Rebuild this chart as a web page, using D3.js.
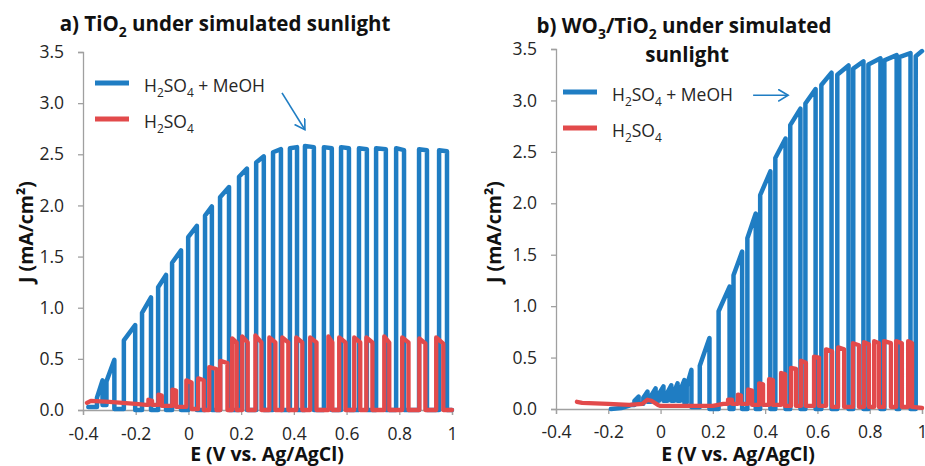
<!DOCTYPE html>
<meta charset="utf-8">
<style>
    body { margin: 0; background: #fff; }
    svg { font-family: 'Open Sans', Lato, sans-serif; }
</style>
<body>
<svg id="chart" width="925" height="466"></svg>

<script src="https://d3js.org/d3.v7.min.js"></script>
<script>
    // axis ticks
    var xTicks = [-0.4, -0.2, 0, 0.2, 0.4, 0.6, 0.8, 1]
    var xTickLabels = ['-0.4', '-0.2', '0', '0.2', '0.4', '0.6', '0.8', '1']
    var yTicks = [0, 0.5, 1, 1.5, 2, 2.5, 3, 3.5]
    var yTickLabels = ['0.0', '0.5', '1.0', '1.5', '2.0', '2.5', '3.0', '3.5']

    // chopped light scans, each pulse: [E on, E off, J after rise, J before fall, dark J after]
    // a) TiO2, H2SO4 + MeOH
    var aMeohLead = [[-0.38, 0.03], [-0.35, 0.03]]
    var aMeohPulses = [
        [-0.347, -0.326, 0.12, 0.29, 0.05],
        [-0.311, -0.281, 0.28, 0.49, 0.01],
        [-0.245, -0.202, 0.68, 0.83, 0],
        [-0.176, -0.142, 0.95, 1.10, 0],
        [-0.115, -0.085, 1.20, 1.32, 0],
        [-0.062, -0.028, 1.44, 1.56, 0],
        [-0.001, 0.032, 1.69, 1.80, 0],
        [0.063, 0.089, 1.90, 1.99, 0],
        [0.120, 0.154, 2.08, 2.18, 0],
        [0.192, 0.222, 2.28, 2.36, 0],
        [0.257, 0.286, 2.42, 2.48, 0],
        [0.321, 0.351, 2.52, 2.55, 0],
        [0.385, 0.412, 2.56, 2.57, 0],
        [0.442, 0.476, 2.58, 2.57, 0],
        [0.514, 0.544, 2.57, 2.56, 0],
        [0.579, 0.609, 2.57, 2.56, 0],
        [0.647, 0.677, 2.56, 2.55, 0],
        [0.712, 0.749, 2.56, 2.55, 0],
        [0.788, 0.818, 2.56, 2.54, 0],
        [0.875, 0.905, 2.55, 2.54, 0],
        [0.951, 0.981, 2.54, 2.53, 0]
    ]
    var aMeohTail = [[1.0, 0.0]]

    // a) TiO2, H2SO4
    var aAcidLead = [[-0.385, 0.07], [-0.37, 0.09], [-0.3, 0.08], [-0.2, 0.06], [-0.16, 0.05]]
    var aAcidPulses = [
        [-0.152, -0.138, 0.10, 0.09, 0.05],
        [-0.114, -0.101, 0.15, 0.14, 0.04],
        [-0.061, -0.047, 0.20, 0.19, 0.03],
        [-0.008, 0.012, 0.29, 0.27, 0.01],
        [0.037, 0.058, 0.31, 0.29, 0],
        [0.079, 0.106, 0.42, 0.40, 0],
        [0.121, 0.148, 0.48, 0.46, 0],
        [0.166, 0.183, 0.70, 0.66, 0],
        [0.204, 0.225, 0.72, 0.66, 0],
        [0.254, 0.277, 0.73, 0.66, 0],
        [0.307, 0.330, 0.71, 0.66, 0],
        [0.356, 0.379, 0.71, 0.66, 0],
        [0.409, 0.432, 0.71, 0.66, 0],
        [0.462, 0.486, 0.71, 0.66, 0],
        [0.531, 0.546, 0.72, 0.66, 0],
        [0.572, 0.596, 0.71, 0.66, 0],
        [0.629, 0.652, 0.71, 0.66, 0],
        [0.675, 0.698, 0.71, 0.66, 0],
        [0.743, 0.762, 0.72, 0.66, 0],
        [0.811, 0.835, 0.71, 0.66, 0],
        [0.876, 0.899, 0.70, 0.65, 0],
        [0.940, 0.967, 0.71, 0.65, 0]
    ]
    var aAcidTail = [[1.0, 0.0]]

    // b) WO3/TiO2, H2SO4 + MeOH
    var bMeohLead = [[-0.19, 0.0], [-0.15, 0.01], [-0.11, 0.04]]
    var bMeohPulses = [
        [-0.100, -0.084, 0.08, 0.12, 0.05],
        [-0.066, -0.050, 0.11, 0.17, 0.07],
        [-0.036, -0.019, 0.13, 0.20, 0.08],
        [-0.006, 0.011, 0.15, 0.22, 0.08],
        [0.026, 0.041, 0.16, 0.23, 0.08],
        [0.052, 0.065, 0.17, 0.25, 0.08],
        [0.075, 0.091, 0.18, 0.28, 0.06],
        [0.100, 0.118, 0.22, 0.38, 0.02],
        [0.150, 0.187, 0.42, 0.69, 0],
        [0.222, 0.264, 0.95, 1.19, 0],
        [0.279, 0.312, 1.30, 1.53, 0],
        [0.332, 0.364, 1.66, 1.90, 0],
        [0.381, 0.420, 2.08, 2.31, 0],
        [0.439, 0.478, 2.44, 2.63, 0],
        [0.496, 0.535, 2.76, 2.92, 0],
        [0.554, 0.593, 2.97, 3.11, 0],
        [0.615, 0.654, 3.15, 3.27, 0],
        [0.676, 0.719, 3.25, 3.34, 0],
        [0.737, 0.776, 3.31, 3.38, 0],
        [0.795, 0.841, 3.35, 3.41, 0],
        [0.856, 0.903, 3.39, 3.44, 0],
        [0.913, 0.956, 3.42, 3.46, 0]
    ]
    var bMeohTail = [[0.976, 0.0], [0.976, 3.43], [1.0, 3.48]]

    // b) WO3/TiO2, H2SO4
    var bAcidLead = [[-0.32, 0.07], [-0.30, 0.06], [-0.2, 0.05], [-0.12, 0.04], [-0.07, 0.05],
        [-0.05, 0.09], [-0.035, 0.08], [-0.01, 0.04], [0.0, 0.03], [0.2, 0.03], [0.24, 0.05]]
    var bAcidPulses = [
        [0.258, 0.273, 0.09, 0.09, 0.05],
        [0.296, 0.308, 0.14, 0.13, 0.05],
        [0.335, 0.350, 0.19, 0.18, 0.04],
        [0.377, 0.392, 0.25, 0.24, 0.04],
        [0.415, 0.430, 0.29, 0.28, 0.04],
        [0.461, 0.476, 0.35, 0.34, 0.03],
        [0.499, 0.518, 0.40, 0.39, 0.03],
        [0.537, 0.556, 0.47, 0.45, 0.03],
        [0.587, 0.606, 0.51, 0.50, 0.03],
        [0.633, 0.656, 0.58, 0.56, 0.02],
        [0.679, 0.702, 0.60, 0.58, 0.02],
        [0.736, 0.759, 0.64, 0.62, 0.02],
        [0.778, 0.797, 0.65, 0.63, 0.02],
        [0.817, 0.835, 0.66, 0.64, 0.02],
        [0.855, 0.881, 0.66, 0.64, 0.02],
        [0.901, 0.923, 0.66, 0.64, 0.02],
        [0.947, 0.962, 0.66, 0.64, 0.02]
    ]
    var bAcidTail = [[1.0, 0.01]]

    // arrows in data units: [[E, J] start, [E, J] end]
    var aArrow = [[0.355, 3.10], [0.442, 2.74]]
    var bArrow = [[0.354, 3.05], [0.488, 3.05]]

    var blue = '#1f7dc3'
    var red = '#e24a4b'
    var axisColor = '#a0a0a0'
    var textColor = '#262626'

    var svg = d3.select('#chart')

    svg.append('defs').append('marker')
        .attr('id', 'head')
        .attr('markerUnits', 'userSpaceOnUse')
        .attr('markerWidth', 14)
        .attr('markerHeight', 14)
        .attr('refX', 10)
        .attr('refY', 6)
        .attr('orient', 'auto')
        .append('path')
        .attr('d', 'M0,0 L10,6 L0,12')
        .attr('fill', 'none')
        .attr('stroke', blue)
        .attr('stroke-width', 1.6)

    // turn pulse table into a list of [E, J] vertices
    function tracePoints(lead, pulses, tail) {
        var pts = lead.slice()
        var dark = lead[lead.length - 1][1]
        pulses.forEach(function (p) {
            pts.push([p[0], dark], [p[0], p[2]], [p[1], p[3]], [p[1], p[4]])
            dark = p[4]
        })
        return pts.concat(tail)
    }

    // text with subscripts: parts = [[text, isSub], ...]
    function richText(sel, parts, size) {
        parts.forEach(function (p, i) {
            var prevSub = i > 0 && parts[i - 1][1]
            var t = sel.append('tspan').text(p[0])
            if (p[1]) t.attr('dy', size * 0.28).style('font-size', (size * 0.68) + 'px')
            else if (prevSub) t.attr('dy', -size * 0.28)
        })
        return sel
    }

    var meohLabel = [['H', 0], ['2', 1], ['SO', 0], ['4', 1], [' + MeOH', 0]]
    var acidLabel = [['H', 0], ['2', 1], ['SO', 0], ['4', 1]]

    var panels = [
        {
            left: 83, right: 452, top: 52, bottom: 410,
            meoh: tracePoints(aMeohLead, aMeohPulses, aMeohTail),
            acid: tracePoints(aAcidLead, aAcidPulses, aAcidTail),
            arrow: aArrow,
            title: [[[['a) TiO', 0], ['2', 1], [' under simulated sunlight', 0]], 225, 31]],
            ylabX: 33, xlabX: 267, tickY: 30,
            legX: 95, legY: 83
        },
        {
            left: 556, right: 922, top: 49, bottom: 409,
            meoh: tracePoints(bMeohLead, bMeohPulses, bMeohTail),
            acid: tracePoints(bAcidLead, bAcidPulses, bAcidTail),
            arrow: bArrow,
            title: [
                [[['b) WO', 0], ['3', 1], ['/TiO', 0], ['2', 1], [' under simulated', 0]], 684, 33],
                [[['sunlight', 0]], 687, 62]
            ],
            ylabX: 501, xlabX: 738, tickY: 29,
            legX: 563, legY: 92
        }
    ]

    panels.forEach(function (p) {
        var x = d3.scaleLinear().domain([-0.4, 1]).range([p.left, p.right])
        var y = d3.scaleLinear().domain([0, 3.5]).range([p.bottom, p.top])

        var gy = svg.append('g')
            .attr('transform', 'translate(' + p.left + ',0)')
            .call(d3.axisLeft(y).tickValues(yTicks)
                .tickFormat(function (d, i) { return yTickLabels[i] })
                .tickSizeOuter(0).tickSize(5).tickPadding(14))
        var gx = svg.append('g')
            .attr('transform', 'translate(0,' + p.bottom + ')')
            .call(d3.axisBottom(x).tickValues(xTicks)
                .tickFormat(function (d, i) { return xTickLabels[i] })
                .tickSizeOuter(0).tickSize(5))

        ;[gx, gy].forEach(function (g) {
            g.attr('font-family', null).attr('font-size', null)
            g.select('.domain').attr('stroke', axisColor).attr('stroke-width', 1.3)
            g.selectAll('.tick line').attr('stroke', axisColor).attr('stroke-width', 1.3)
            g.selectAll('text').attr('fill', textColor).style('font-size', '17.5px')
        })
        gx.selectAll('text').attr('y', p.tickY).attr('dy', 0)

        var line = d3.line()
            .x(function (d) { return x(d[0]) })
            .y(function (d) { return y(d[1]) })

        svg.append('path')
            .datum(p.meoh)
            .attr('d', line)
            .attr('fill', 'none')
            .attr('stroke', blue)
            .attr('stroke-width', 4.5)
            .attr('stroke-linejoin', 'round')
            .attr('stroke-linecap', 'round')

        svg.append('path')
            .datum(p.acid)
            .attr('d', line)
            .attr('fill', 'none')
            .attr('stroke', red)
            .attr('stroke-width', 4.3)
            .attr('stroke-linejoin', 'round')
            .attr('stroke-linecap', 'round')

        // annotation arrow
        svg.append('line')
            .attr('x1', x(p.arrow[0][0])).attr('y1', y(p.arrow[0][1]))
            .attr('x2', x(p.arrow[1][0])).attr('y2', y(p.arrow[1][1]))
            .attr('stroke', blue)
            .attr('stroke-width', 1.6)
            .attr('marker-end', 'url(#head)')

        // legend
        var leg = svg.append('g').attr('transform', 'translate(' + p.legX + ',' + p.legY + ')')
        ;[[blue, meohLabel, 0], [red, acidLabel, 36]].forEach(function (e) {
            leg.append('line')
                .attr('x1', 0).attr('x2', 34)
                .attr('y1', e[2]).attr('y2', e[2])
                .attr('stroke', e[0])
                .attr('stroke-width', 5)
            richText(leg.append('text')
                .attr('x', 49).attr('y', e[2] + 9)
                .attr('fill', textColor)
                .style('font-size', '17.5px'), e[1], 17.5)
        })

        // titles
        p.title.forEach(function (t) {
            richText(svg.append('text')
                .attr('x', t[1]).attr('y', t[2])
                .attr('text-anchor', 'middle')
                .attr('fill', '#111')
                .style('font-size', '20.5px')
                .style('font-weight', 'bold'), t[0], 20.5)
        })

        svg.append('text')
            .attr('transform', 'translate(' + p.ylabX + ',232) rotate(-90)')
            .attr('text-anchor', 'middle')
            .attr('fill', '#111')
            .style('font-size', '19.5px')
            .style('font-weight', 'bold')
            .text('J (mA/cm²)')

        svg.append('text')
            .attr('x', p.xlabX).attr('y', 461)
            .attr('text-anchor', 'middle')
            .attr('fill', '#111')
            .style('font-size', '19.5px')
            .style('font-weight', 'bold')
            .text('E (V vs. Ag/AgCl)')
    })
</script>
</body>
